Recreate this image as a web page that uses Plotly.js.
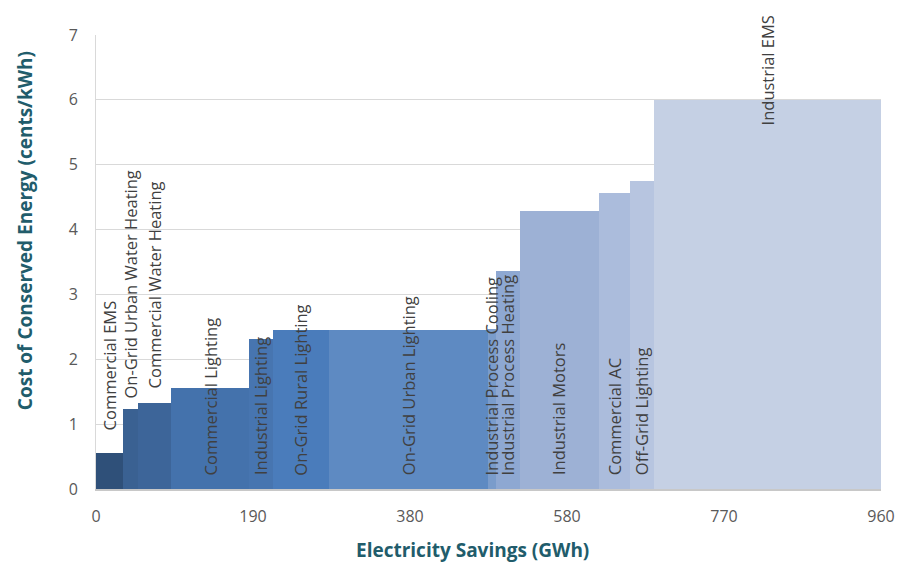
<!DOCTYPE html>
<html>
<head>
<meta charset="utf-8">
<script src="https://cdn.plot.ly/plotly-3.0.1.min.js"></script>
<style>html,body{margin:0;padding:0;background:#fff}#chart{width:898px;height:563px}</style>
</head>
<body>
<div id="chart"></div>
<script>
// Measures (in order of cost), cumulative savings end (GWh), cost (cents/kWh)
var measures = ["Commercial EMS","On-Grid Urban Water Heating","Commercial Water Heating","Commercial Lighting","Industrial Lighting","On-Grid Rural Lighting","On-Grid Urban Lighting","Industrial Process Cooling","Industrial Process Heating","Industrial Motors","Commercial AC","Off-Grid Lighting","Industrial EMS"];
var cumulativeEnd = [33, 51, 92, 187, 216, 285, 479, 489, 518, 615, 653, 682, 960];
var costs = [0.55, 1.24, 1.33, 1.55, 2.32, 2.45, 2.45, 2.46, 3.36, 4.29, 4.56, 4.75, 6.0];
var xTickVals = [0, 192, 384, 576, 768, 960];
var xTickText = ["0", "190", "380", "580", "770", "960"];
var xTitle = "Electricity Savings (GWh)";
var yTitle = "Cost of Conserved Energy (cents/kWh)";

var barColors = ["#2f5079","#3a6192","#3d6599","#4472ac","#4775b0","#4a7cbb","#5e8ac2","#7a9ccb","#8ea8d2","#9db1d5","#abbcdc","#b7c5e0","#c5d0e4"];
// label anchor (bottom of rotated text) in axis units; default inside base
var labelBottom = {0: 0.88, 1: 1.37, 2: 1.52, 12: 5.58};

var starts = cumulativeEnd.map(function(e, i){ return i === 0 ? 0 : cumulativeEnd[i-1]; });
var widths = cumulativeEnd.map(function(e, i){ return e - starts[i]; });
var centers = cumulativeEnd.map(function(e, i){ return (e + starts[i]) / 2; });

var trace = {
  type: "bar",
  x: centers,
  y: costs,
  width: widths,
  marker: {color: barColors, line: {width: 0}},
  text: measures,
  hoverinfo: "text+y",
  textposition: "none"
};

var annotations = measures.map(function(m, i){
  return {
    x: centers[i], y: (labelBottom[i] !== undefined ? labelBottom[i] : 0.18),
    xref: "x", yref: "y",
    text: m, showarrow: false, textangle: -90,
    xanchor: "center", yanchor: "bottom",
    font: {family: "Open Sans", size: 16.5, color: "#404040"}
  };
});
var titleFont = {family: "Open Sans", size: 19, color: "#215c6b", weight: "bold"};
annotations.push({
  xref: "paper", yref: "paper", x: 0.479, y: -0.134,
  xanchor: "center", yanchor: "middle", showarrow: false,
  text: xTitle, font: titleFont
});
annotations.push({
  xref: "paper", yref: "paper", x: -0.0904, y: 0.568,
  xanchor: "center", yanchor: "middle", showarrow: false, textangle: -90,
  text: yTitle, font: titleFont
});

var layout = {
  width: 898, height: 563,
  margin: {l: 96, r: 17, t: 35, b: 74},
  paper_bgcolor: "#ffffff", plot_bgcolor: "#ffffff",
  showlegend: false,
  bargap: 0,
  font: {family: "Open Sans", color: "#595959"},
  xaxis: {
    range: [0, 960], tickmode: "array", tickvals: xTickVals, ticktext: xTickText,
    showgrid: false, zeroline: false, showline: true, linecolor: "#c8c8c8", linewidth: 2,
    ticks: "", ticklabelstandoff: 12,
    tickfont: {family: "Open Sans", size: 16, color: "#595959"}
  },
  yaxis: {
    range: [0, 7], dtick: 1, tick0: 0,
    showgrid: true, gridcolor: "#d9d9d9", gridwidth: 1, zeroline: false,
    showline: true, linecolor: "#d9d9d9", linewidth: 1,
    ticks: "", ticklabelstandoff: 14,
    tickfont: {family: "Open Sans", size: 16, color: "#595959"}
  },
  annotations: annotations
};

Plotly.newPlot("chart", [trace], layout, {displayModeBar: false, staticPlot: true});
</script>
</body>
</html>
